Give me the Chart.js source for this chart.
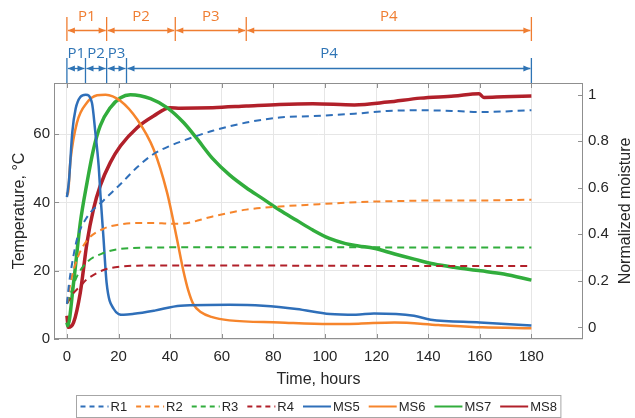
<!DOCTYPE html>
<html>
<head>
<meta charset="utf-8">
<script src="https://cdn.jsdelivr.net/npm/chart.js@4.4.1/dist/chart.umd.min.js"></script>
<style>
  html, body { margin: 0; padding: 0; background: #ffffff; }
  canvas { display: block; }
</style>
</head>
<body>
<canvas id="moistureChart" width="635" height="418"></canvas>
<script>
// ---- data ----
// reference temperatures, left axis (°C)
const r1Hours = [0, 0.8, 2.1, 4, 7.8, 14.2, 20.8, 27.2, 33.6, 40, 44, 56.5, 69.5, 82.4, 95.3, 111.4, 124.3, 137, 150, 160.3, 180];
const r1Temp  = [10.3, 16, 22.5, 29.5, 35.7, 40.6, 45.4, 50.3, 54.2, 56.6, 57.8, 61, 63.4, 64.9, 65.3, 66, 66.8, 67, 66.8, 66.5, 67];

const r2Hours = [0, 1.4, 4, 7.8, 14.2, 20.8, 27.2, 33.6, 40, 44, 56.5, 69.5, 82.4, 95.3, 113, 127, 144, 160, 180];
const r2Temp  = [10.3, 16.5, 23.5, 28.9, 32.3, 33.6, 34, 34, 33.8, 33.8, 35.9, 37.9, 38.8, 39.4, 40.1, 40.4, 40.6, 40.6, 40.8];

const r3Hours = [0, 1.5, 4, 7.8, 14.2, 20.8, 33.6, 60, 100, 140, 180];
const r3Temp  = [10.3, 13.5, 18.5, 22.5, 25.2, 26.4, 26.8, 26.9, 26.9, 26.8, 26.8];

const r4Hours = [0, 2.1, 5.2, 7.8, 14.2, 20.8, 30, 80, 130, 180];
const r4Temp  = [10.3, 13, 15.5, 17.5, 20.2, 21.2, 21.5, 21.5, 21.4, 21.4];

// moisture sensors, right axis (normalized)
const ms5Hours = [0, 0.8, 2.1, 3.4, 5.2, 7.3, 9.7, 11, 12.3, 13, 14.2, 15.4, 18.1, 22, 26, 34, 44, 63, 76, 89, 102, 112, 119, 134.5, 141, 160, 180];
const ms5Value = [0.56, 0.63, 0.84, 0.94, 0.99, 1.0, 0.965, 0.84, 0.695, 0.57, 0.38, 0.19, 0.08, 0.054, 0.058, 0.072, 0.093, 0.097, 0.093, 0.079, 0.057, 0.054, 0.06, 0.05, 0.033, 0.021, 0.008];

const ms6Hours = [0, 0.3, 1.4, 3.9, 7.8, 11.7, 15, 20.8, 27.2, 33.6, 38.8, 41, 43, 45, 47, 49, 52, 56, 63, 82.3, 101.7, 113, 127, 144, 161, 180];
const ms6Value = [0.58, 0.57, 0.72, 0.88, 0.966, 0.997, 1.0, 0.973, 0.894, 0.765, 0.58, 0.47, 0.36, 0.25, 0.16, 0.1, 0.065, 0.045, 0.03, 0.021, 0.014, 0.016, 0.021, 0.01, 0.0, -0.004];

const ms7Hours = [0, 0.3, 2.6, 5.2, 7.8, 10.3, 12.9, 16.8, 20.8, 24.6, 32.4, 38.8, 45.2, 50.1, 56.5, 63, 69.5, 76, 82.4, 89, 95.3, 101.7, 108, 113, 119, 127, 134.6, 142.3, 150, 160.3, 169.3, 180];
const ms7Value = [0.021, 0.007, 0.193, 0.45, 0.622, 0.765, 0.866, 0.944, 0.987, 1.0, 0.983, 0.944, 0.88, 0.815, 0.725, 0.655, 0.6, 0.552, 0.504, 0.46, 0.418, 0.382, 0.36, 0.35, 0.34, 0.315, 0.293, 0.272, 0.258, 0.243, 0.229, 0.203];

const ms8Hours = [0, 0.6, 2.6, 5.2, 7.8, 10.3, 12.9, 16.8, 20.8, 27.2, 33.6, 40, 44, 56.5, 69.5, 82.4, 95.3, 111.4, 124.3, 137, 150, 159.7, 161.6, 169.3, 180];
const ms8Value = [0.05, 0.0, 0.021, 0.15, 0.365, 0.508, 0.608, 0.708, 0.78, 0.858, 0.908, 0.944, 0.942, 0.944, 0.951, 0.958, 0.961, 0.956, 0.968, 0.985, 0.994, 1.004, 0.988, 0.991, 0.994];

// axis ticks
const hourTicks = [0, 20, 40, 60, 80, 100, 120, 140, 160, 180];
const tempTicks = [0, 20, 40, 60];
const moistTicks = [0, 0.2, 0.4, 0.6, 0.8, 1];

// heating phases shown above the plot
const phaseLabels = ['P1', 'P2', 'P3', 'P4'];
const phaseBoundsTop = [0, 15.4, 42, 69.5, 180];
const phaseBoundsBottom = [0, 7.2, 15.4, 23.1, 180];

// ---- styling ----
const BLUE = '#2f6fb9';
const ORANGE = '#f6852c';
const GREEN = '#31ad3c';
const RED = '#b1202a';
const AXIS_GRAY = '#8f8f8f';
const TEXT = '#262626';
const FONT = "'Liberation Sans', Arial, sans-serif";

function toPoints(xs, ys) {
    return xs.map((x, i) => ({ x: x, y: ys[i] }));
}

function series(label, xs, ys, color, dashed, axis, width) {
    return {
        label: label,
        data: toPoints(xs, ys),
        borderColor: color,
        backgroundColor: color,
        borderWidth: width,
        borderDash: dashed ? [7, 5] : [],
        pointRadius: 0,
        fill: false,
        cubicInterpolationMode: 'monotone',
        yAxisID: axis
    };
}

const datasets = [
    series('R1', r1Hours, r1Temp, BLUE, true, 'y', 2),
    series('R2', r2Hours, r2Temp, ORANGE, true, 'y', 2),
    series('R3', r3Hours, r3Temp, GREEN, true, 'y', 2),
    series('R4', r4Hours, r4Temp, RED, true, 'y', 2),
    series('MS5', ms5Hours, ms5Value, BLUE, false, 'y1', 2.5),
    series('MS6', ms6Hours, ms6Value, ORANGE, false, 'y1', 2.5),
    series('MS7', ms7Hours, ms7Value, GREEN, false, 'y1', 3.5),
    series('MS8', ms8Hours, ms8Value, RED, false, 'y1', 3.5)
];

// Фазы над графиком: стрелки и подписи
function drawPhaseRow(ctx, xScale, bounds, color, lineY, barTop, barBottom, labelY) {
    const px = bounds.map(v => xScale.getPixelForValue(v));
    ctx.save();
    ctx.strokeStyle = color;
    ctx.fillStyle = color;
    ctx.lineWidth = 1.3;
    px.forEach(p => {
        ctx.beginPath();
        ctx.moveTo(p, barTop);
        ctx.lineTo(p, barBottom);
        ctx.stroke();
    });
    ctx.font = "15px 'Open Sans', 'Noto Sans', sans-serif";
    ctx.textAlign = 'center';
    ctx.textBaseline = 'middle';
    for (let i = 0; i < px.length - 1; i++) {
        const a = px[i] + 1;
        const b = px[i + 1] - 1;
        ctx.beginPath();
        ctx.moveTo(a, lineY);
        ctx.lineTo(b, lineY);
        ctx.stroke();
        // arrow heads pointing outwards
        ctx.beginPath();
        ctx.moveTo(a, lineY);
        ctx.lineTo(a + 7, lineY - 3);
        ctx.lineTo(a + 7, lineY + 3);
        ctx.closePath();
        ctx.fill();
        ctx.beginPath();
        ctx.moveTo(b, lineY);
        ctx.lineTo(b - 7, lineY - 3);
        ctx.lineTo(b - 7, lineY + 3);
        ctx.closePath();
        ctx.fill();
        ctx.fillText(phaseLabels[i], (a + b) / 2, labelY);
    }
    ctx.restore();
}

const framePlugin = {
    id: 'frame',
    afterDraw(chart) {
        const ctx = chart.ctx;
        const area = chart.chartArea;
        const x = chart.scales.x;
        const y = chart.scales.y;
        const y1 = chart.scales.y1;

        // axes box with inward ticks
        ctx.save();
        ctx.strokeStyle = AXIS_GRAY;
        ctx.lineWidth = 1;
        ctx.strokeRect(area.left + 0.5, area.top + 0.5, area.right - area.left - 1, area.bottom - area.top - 1);
        ctx.beginPath();
        hourTicks.forEach(v => {
            const p = Math.round(x.getPixelForValue(v)) + 0.5;
            ctx.moveTo(p, area.bottom);
            ctx.lineTo(p, area.bottom - 5);
            ctx.moveTo(p, area.top);
            ctx.lineTo(p, area.top + 5);
        });
        tempTicks.forEach(v => {
            const p = Math.round(y.getPixelForValue(v)) + 0.5;
            ctx.moveTo(area.left, p);
            ctx.lineTo(area.left + 5, p);
        });
        moistTicks.forEach(v => {
            const p = Math.round(y1.getPixelForValue(v)) + 0.5;
            ctx.moveTo(area.right, p);
            ctx.lineTo(area.right - 5, p);
        });
        ctx.stroke();
        ctx.restore();

        // right axis title, reading bottom to top
        ctx.save();
        ctx.fillStyle = TEXT;
        ctx.font = '16px ' + FONT;
        ctx.textAlign = 'center';
        ctx.textBaseline = 'middle';
        ctx.translate(626, (area.top + area.bottom) / 2);
        ctx.rotate(-Math.PI / 2);
        ctx.fillText('Normalized moisture', 0, 0);
        ctx.restore();

        // phases
        drawPhaseRow(ctx, x, phaseBoundsTop, '#ef7d31', 30.5, 17, 41, 17);
        drawPhaseRow(ctx, x, phaseBoundsBottom, '#2e74b5', 68.5, 58, area.top, 54);

        // legend in a box under the axis label
        ctx.save();
        ctx.font = '13px ' + FONT;
        ctx.textBaseline = 'middle';
        const lineLen = 28, gap = 2, spacing = 9, pad = 4;
        const widths = chart.data.datasets.map(d => lineLen + gap + ctx.measureText(d.label).width);
        const total = widths.reduce((s, w) => s + w, 0) + spacing * (widths.length - 1) + pad * 2;
        const boxLeft = Math.round((area.left + area.right) / 2 - total / 2) + 0.5;
        const boxTop = 395.5, boxH = 22;
        ctx.fillStyle = '#ffffff';
        ctx.fillRect(boxLeft, boxTop, total, boxH);
        ctx.strokeStyle = '#a6a6a6';
        ctx.lineWidth = 1;
        ctx.strokeRect(boxLeft, boxTop, total, boxH);
        let cx = boxLeft + pad;
        const cy = boxTop + boxH / 2;
        chart.data.datasets.forEach((d, i) => {
            ctx.strokeStyle = d.borderColor;
            ctx.lineWidth = 2;
            ctx.setLineDash(d.borderDash.length ? [5, 4] : []);
            ctx.beginPath();
            ctx.moveTo(cx, cy);
            ctx.lineTo(cx + lineLen, cy);
            ctx.stroke();
            ctx.setLineDash([]);
            ctx.fillStyle = TEXT;
            ctx.fillText(d.label, cx + lineLen + gap, cy + 0.5);
            cx += widths[i] + spacing;
        });
        ctx.restore();
    }
};

const tickFont = { family: FONT, size: 15 };
const titleFont = { family: FONT, size: 16 };

const ctx = document.getElementById('moistureChart').getContext('2d');
new Chart(ctx, {
    type: 'line',
    data: { datasets: datasets },
    options: {
        responsive: false,
        animation: false,
        devicePixelRatio: 1,
        layout: { padding: { top: 83, bottom: 29, left: 0, right: 0 } },
        plugins: {
            legend: { display: false },
            tooltip: { enabled: false }
        },
        scales: {
            x: {
                type: 'linear',
                min: -5,
                max: 200,
                afterBuildTicks: s => { s.ticks = hourTicks.map(v => ({ value: v })); },
                afterFit: s => { s.height = 50; },
                border: { display: false },
                grid: { color: '#e6e6e6', drawTicks: false },
                ticks: { padding: 9, font: tickFont, color: TEXT, maxRotation: 0, autoSkip: false },
                title: { display: true, text: 'Time, hours', font: titleFont, color: TEXT, padding: 0 }
            },
            y: {
                type: 'linear',
                position: 'left',
                min: 0,
                max: 75,
                afterBuildTicks: s => { s.ticks = tempTicks.map(v => ({ value: v })); },
                afterFit: s => { s.width = 54; },
                border: { display: false },
                grid: { color: '#e6e6e6', drawTicks: false },
                ticks: { padding: 4, font: tickFont, color: TEXT },
                title: { display: true, text: 'Temperature, °C', font: titleFont, color: TEXT, padding: { top: 10, bottom: 0 } }
            },
            y1: {
                type: 'linear',
                position: 'right',
                min: -0.05,
                max: 1.05,
                afterBuildTicks: s => { s.ticks = moistTicks.map(v => ({ value: v })); },
                afterFit: s => { s.width = 52; },
                border: { display: false },
                grid: { drawOnChartArea: false, drawTicks: false },
                ticks: { padding: 5, font: tickFont, color: TEXT, callback: v => String(v) }
            }
        }
    },
    plugins: [framePlugin]
});
</script>
</body>
</html>
